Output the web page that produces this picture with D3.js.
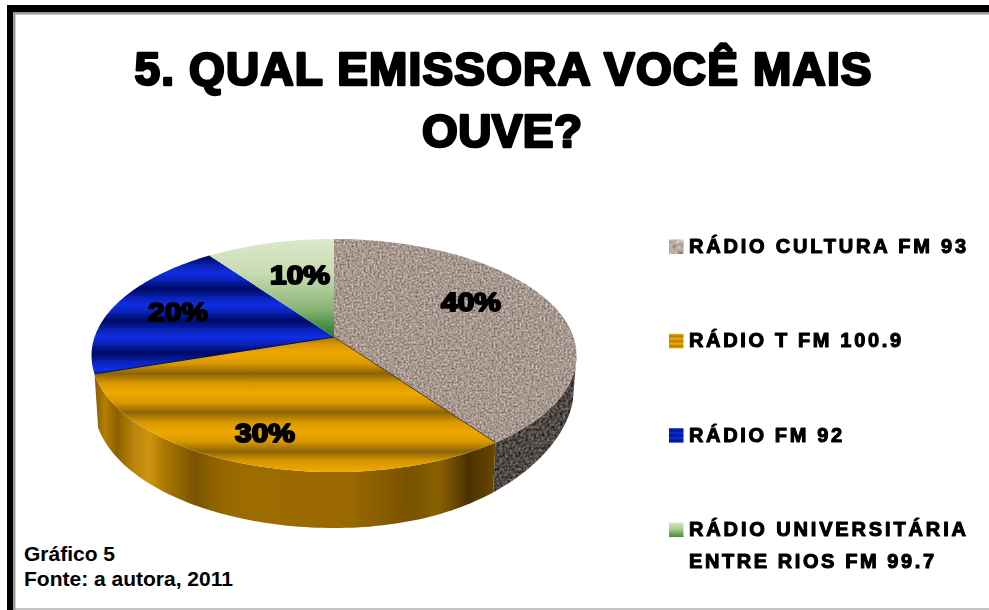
<!DOCTYPE html>
<html><head><meta charset="utf-8">
<script src="https://cdnjs.cloudflare.com/ajax/libs/d3/7.8.5/d3.min.js"></script>
<style>html,body{margin:0;background:#fff}svg{display:block}text{font-family:"Liberation Sans",Arial,sans-serif;font-weight:bold;fill:#000}</style>
</head><body><svg id="c" width="989" height="610"></svg>
<script>
const categories = ["RÁDIO CULTURA FM 93","RÁDIO T FM 100.9","RÁDIO FM 92","RÁDIO UNIVERSITÁRIA|ENTRE RIOS FM 99.7"];
const values = [40,30,20,10];
const valueLabels = ["40%","30%","20%","10%"];
const titleLines = ["5. QUAL EMISSORA VOCÊ MAIS","OUVE?"];
const captionLines = ["Gráfico 5","Fonte: a autora, 2011"];

const svg = d3.select("#c");
const defs = svg.append("defs");
function grad(id, attrs, stops){
  const g = defs.append("linearGradient").attr("id",id);
  Object.entries(attrs).forEach(([k,v])=>g.attr(k,v));
  stops.forEach(([o,c])=>g.append("stop").attr("offset",o).attr("stop-color",c));
}
const u = {gradientUnits:"userSpaceOnUse"};
const orangeStops=[[0,"#f0a800"],[.25,"#d89800"],[.5,"#8c6408"],[.75,"#d89800"],[1,"#f0a800"]];
const blueStops=[[0,"#0a2ee6"],[.25,"#0720ae"],[.5,"#000a62"],[.75,"#0720ae"],[1,"#0a2ee6"]];
grad("orangeTop",{...u,x1:0,x2:0,y1:354,y2:393,spreadMethod:"repeat"},orangeStops);
grad("blueTop",{...u,x1:0,x2:0,y1:273,y2:305,spreadMethod:"repeat"},blueStops);
grad("greenTop",{...u,x1:0,x2:0,y1:240,y2:337},[[0,"#dce8ca"],[.35,"#c6dbb0"],[.7,"#8db578"],[1,"#1f7a22"]]);
grad("orangeSide",{...u,x1:93,x2:495,y1:0,y2:0},[[0,"#7d5500"],[.03,"#b57f05"],[.06,"#8a6000"],[.1,"#b88208"],[.14,"#d09508"],[.18,"#a87605"],[.255,"#7a5200"],[.3,"#8f6300"],[.37,"#9c6c03"],[.63,"#9a6a02"],[.79,"#785200"],[.86,"#8a6000"],[.935,"#4a3200"],[1,"#6a4800"]]);
grad("orangeSw",{x1:0,x2:0,y1:0,y2:.34,spreadMethod:"repeat"},orangeStops.map(([o,c],i)=>[o,i==2?"#a87a10":c]));
grad("blueSw",{x1:0,x2:0,y1:0,y2:.34,spreadMethod:"repeat"},blueStops.map(([o,c],i)=>[o,i==2?"#001a90":c]));
grad("greenSw",{x1:0,x2:0,y1:0,y2:1},[[0,"#dce8ca"],[.5,"#a6c690"],[1,"#3f8a38"]]);

function noise(id,freq,base,amp,seed,blur){
  const f = defs.append("filter").attr("id",id).attr("x",0).attr("y",0).attr("width",1).attr("height",1)
    .attr("color-interpolation-filters","sRGB");
  f.append("feTurbulence").attr("type","fractalNoise").attr("baseFrequency",freq).attr("numOctaves",2).attr("seed",seed).attr("result","n");
  const m = (c)=>`${amp} 0 0 0 ${c-amp/2} `;
  f.append("feColorMatrix").attr("in","n").attr("type","matrix")
    .attr("values",`${m(base[0])} ${m(base[1])} ${m(base[2])} 0 0 0 0 1`).attr("result","c");
  f.append("feGaussianBlur").attr("in","c").attr("stdDeviation",blur).attr("result","b");
  f.append("feComposite").attr("in","b").attr("in2","SourceAlpha").attr("operator","in");
}
noise("granite",.5,[.65,.595,.56],.62,4,.5);
noise("graniteSide",.38,[.31,.285,.27],.62,9,.55);
noise("graniteSw",.16,[.72,.67,.63],.6,3,.5);
defs.append("filter").attr("id","soft").append("feGaussianBlur").attr("stdDeviation",.45);
defs.append("filter").attr("id","softText").attr("x","-5%").attr("y","-15%").attr("width","110%").attr("height","130%")
  .append("feGaussianBlur").attr("stdDeviation",.4);

// frame
svg.append("rect").attr("x",14).attr("y",608).attr("width",975).attr("height",2).attr("fill","#c4c4c4");
svg.append("rect").attr("x",13).attr("y",12).attr("width",976).attr("height",2.5).attr("fill","#9a9a9a");
svg.append("rect").attr("x",13).attr("y",12).attr("width",2.5).attr("height",598).attr("fill","#9a9a9a");
svg.append("rect").attr("x",7).attr("y",5).attr("width",982).attr("height",7).attr("fill","#000");
svg.append("rect").attr("x",7).attr("y",5).attr("width",6).attr("height",605).attr("fill","#000");

// heavy text: bold with an outline and open spacing, standing in for a black-weight face
function heavy(sel,size,width,sw,adjust="spacing"){
  sel.attr("font-size",size).attr("stroke","#000").attr("stroke-width",sw).attr("stroke-linejoin","round")
     .attr("textLength",width).attr("lengthAdjust",adjust).attr("filter","url(#softText)");
}
const titleGeom=[{x:503,y:85,w:737},{x:502,y:147,w:160}];
svg.selectAll(".title").data(titleLines).join("text").attr("class","title")
  .text(d=>d).attr("text-anchor","middle").attr("x",(d,i)=>titleGeom[i].x).attr("y",(d,i)=>titleGeom[i].y)
  .each(function(d,i){heavy(d3.select(this),46,titleGeom[i].w,2.6)});

// perspective pie
const cx=334, apexY=337, R=239.4, S=113.6, K=.159;
const rim=a=>{const s=Math.sin(a),v=-Math.cos(a),w=1-K*v;return [cx+R*s/w,apexY+S*v/w]};
const under=a=>{const [x]=rim(a),dx=(x-cx)*.985,t=Math.min(1,Math.abs(dx)/240);
  return [cx+dx,405+123*Math.sqrt(1-t*t)-(dx>0?16*t*t*t:0)]};
const pieGen=d3.pie().sort(null).value(d=>d);
const arcs=pieGen(values);
const line=d3.line();
const samples=(a0,a1,n=90)=>d3.range(n+1).map(i=>a0+(a1-a0)*i/n);
const pie=svg.append("g").attr("filter","url(#soft)");
// sides: grey from the right-hand silhouette, orange across the front
const rightmost=Math.acos(-K);
const sideD=(a0,a1)=>{const s=samples(a0,a1);return line([...s.map(rim),...s.slice().reverse().map(under)])+"Z"};
pie.append("path").attr("d",sideD(rightmost,arcs[0].endAngle)).attr("fill","#000").attr("filter","url(#graniteSide)");
pie.append("path").attr("d",sideD(arcs[1].startAngle,arcs[1].endAngle)).attr("fill","url(#orangeSide)");
const topFill=["#000","url(#orangeTop)","url(#blueTop)","url(#greenTop)"];
const topD=d=>line([[cx,apexY],...samples(d.startAngle,d.endAngle).map(rim)])+"Z";
pie.selectAll(".top").data(arcs).join("path").attr("class","top").attr("d",topD)
  .attr("fill",(d,i)=>topFill[i]).attr("filter",(d,i)=>i==0?"url(#granite)":null);
// slice edges
pie.selectAll(".edge").data(arcs.slice(0,3)).join("path").attr("class","edge")
  .attr("d",d=>line([[cx,apexY],rim(d.endAngle)])).attr("fill","none")
  .attr("stroke",(d,i)=>["#4a3a12","#06104c","none"][i]).attr("stroke-width",1);

const labelPos=[[471,311],[265,442],[178,321],[300,284]];
svg.selectAll(".pct").data(valueLabels).join("text").attr("class","pct").text(d=>d)
  .attr("text-anchor","middle").attr("x",(d,i)=>labelPos[i][0]).attr("y",(d,i)=>labelPos[i][1])
  .each(function(){heavy(d3.select(this),26,60,2,"spacingAndGlyphs")});

// legend
const legY=d3.scalePoint().domain(categories).range([253,536]);
const legFill=["#000","url(#orangeSw)","url(#blueSw)","url(#greenSw)"];
const legW=[[277],[212],[153],[277,245]];
const leg=svg.selectAll(".leg").data(categories).join("g").attr("class","leg");
leg.append("rect").attr("x",669).attr("y",d=>legY(d)-13.5).attr("width",14.5).attr("height",14.5)
  .attr("fill",(d,i)=>legFill[i]).attr("filter",(d,i)=>i==0?"url(#graniteSw)":null);
leg.each(function(d,i){
  d3.select(this).selectAll("text").data(d.split("|")).join("text").text(t=>t)
    .attr("x",689).attr("y",(t,j)=>legY(d)+j*32)
    .each(function(t,j){heavy(d3.select(this),20,legW[i][j],1.1)});
});

// caption
svg.selectAll(".cap").data(captionLines).join("text").attr("class","cap").text(d=>d)
  .attr("x",24).attr("y",(d,i)=>561+i*25).attr("font-size",21);
</script></body></html>
